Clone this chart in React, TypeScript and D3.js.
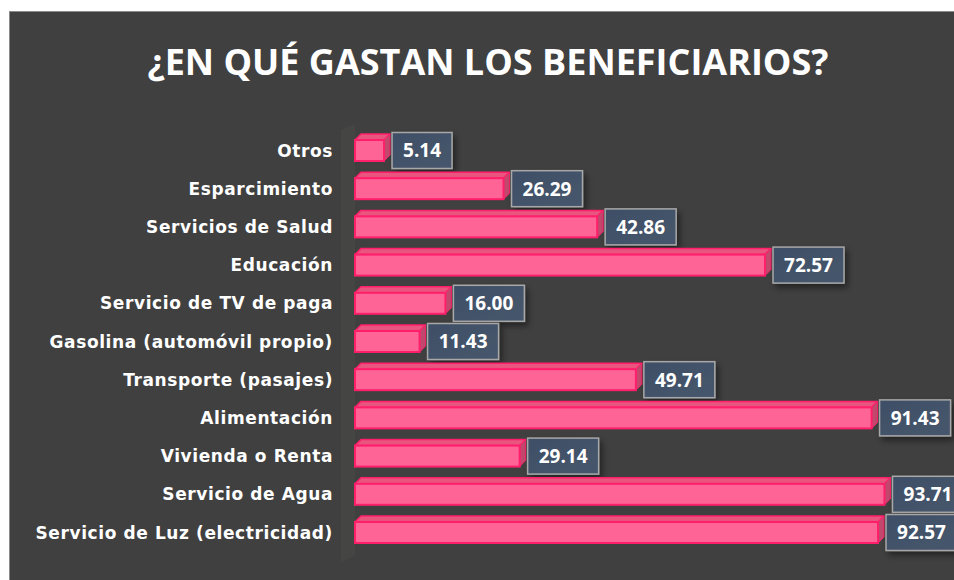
import React from "react";
import * as d3 from "d3";

const categories = [
  "Otros",
  "Esparcimiento",
  "Servicios de Salud",
  "Educación",
  "Servicio de TV de paga",
  "Gasolina (automóvil propio)",
  "Transporte (pasajes)",
  "Alimentación",
  "Vivienda o Renta",
  "Servicio de Agua",
  "Servicio de Luz (electricidad)",
];
const values = [5.14, 26.29, 42.86, 72.57, 16.0, 11.43, 49.71, 91.43, 29.14, 93.71, 92.57];
const title = "¿EN QUÉ GASTAN LOS BENEFICIARIOS?";

const W = 954;
const H = 580;

export default function App() {
  const x = d3.scaleLinear().domain([0, 100]).range([355, 355 + 565]);
  const y = d3
    .scaleBand()
    .domain(categories)
    .range([131.4, 551.6])
    .paddingInner(0.45)
    .paddingOuter(0.225);
  const depth = 6;
  const bh = 21;
  const fmt = d3.format(".2f");
  const labelFont = "'Open Sans', 'DejaVu Sans', sans-serif";
  const catFont = "'DejaVu Sans', sans-serif";

  return (
    <svg
      width={W}
      height={H}
      style={{ position: "absolute", left: 0, top: 0, display: "block" }}
    >
      <defs>
        <filter id="sh" x="-30%" y="-30%" width="170%" height="180%">
          <feDropShadow dx="3" dy="4" stdDeviation="3" floodColor="#000" floodOpacity="0.45" />
        </filter>
        <linearGradient id="boxg" x1="0" y1="0" x2="1" y2="1">
          <stop offset="0" stopColor="#3f4f66" />
          <stop offset="1" stopColor="#46566d" />
        </linearGradient>
      </defs>
      <rect x={0} y={0} width={W} height={H} fill="#ffffff" />
      <rect x={9.5} y={11.5} width={970} height={600} fill="#404040" stroke="#8a8a8a" strokeWidth={1} />
      <text
        x={488}
        y={75}
        textAnchor="middle"
        fill="#ffffff"
        fontFamily={labelFont}
        fontWeight={700}
        fontSize={36}
      >
        {title}
      </text>
      {/* wall */}
      <path
        d={`M${x(0) - 14},130 L${x(0)},124 L${x(0)},556 L${x(0) - 14},562 Z`}
        fill="#4a4a46"
        opacity={0.6}
      />
      {categories.map((c, i) => {
        const v = values[i];
        const y0 = (y(c) as number);
        const y1 = y0 + bh;
        const x0 = x(0);
        const x1 = x(v);
        const cy = (y0 + y1) / 2;
        const txt = fmt(v);
        const bw = txt.length * 11 + 16;
        const bx = x1 + 8;
        return (
          <g key={c}>
            <text
              x={333}
              y={cy}
              dy="0.36em"
              textAnchor="end"
              fill="#ffffff"
              fontFamily={catFont}
              fontWeight={700}
              fontSize={17}
              letterSpacing={0.6}
            >
              {c}
            </text>
            <path
              d={`M${x0},${y0} L${x0 + depth},${y0 - depth} L${x1 + depth},${y0 - depth} L${x1},${y0} Z`}
              fill="#e8557f"
              stroke="#ff1f6b"
              strokeWidth={1.5}
              strokeLinejoin="round"
            />
            <path
              d={`M${x1},${y0} L${x1 + depth},${y0 - depth} L${x1 + depth},${y1 - depth} L${x1},${y1} Z`}
              fill="#c2496e"
              stroke="#ff1f6b"
              strokeWidth={1}
            />
            <rect
              x={x0}
              y={y0}
              width={x1 - x0}
              height={bh}
              fill="#ff6497"
              stroke="#ff1f6b"
              strokeWidth={2}
            />
            <g filter="url(#sh)">
              <rect
                x={bx}
                y={cy - 18}
                width={bw}
                height={36}
                fill="url(#boxg)"
                stroke="#a8a8a8"
                strokeWidth={1.5}
              />
            </g>
            <text
              x={bx + bw / 2}
              y={cy}
              dy="0.36em"
              textAnchor="middle"
              fill="#ffffff"
              fontFamily={labelFont}
              fontWeight={700}
              fontSize={19}
            >
              {txt}
            </text>
          </g>
        );
      })}
    </svg>
  );
}
